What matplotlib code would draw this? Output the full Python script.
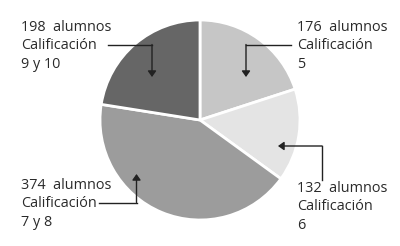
import matplotlib
matplotlib.use("Agg")
import matplotlib.pyplot as plt

# ── Data ─────────────────────────────────────────────────────────────────────
alumnos = [176, 132, 374, 198]
calificaciones = ["5", "6", "7 y 8", "9 y 10"]
colores = ["#c6c6c6", "#e4e4e4", "#9c9c9c", "#666666"]

# ── Figure (pixel-like coordinates, y up) ────────────────────────────────────
W, H = 400, 246
plt.rcParams["font.family"] = ["Open Sans", "DejaVu Sans"]

fig = plt.figure(figsize=(W / 100, H / 100), dpi=100)
ax = fig.add_axes([0, 0, 1, 1])
ax.set_xlim(0, W)
ax.set_ylim(0, H)
ax.set_aspect("equal")
ax.axis("off")

ax.pie(alumnos, colors=colores, startangle=90, counterclock=False,
       center=(200, 126), radius=100,
       wedgeprops=dict(edgecolor="white", linewidth=2))
ax.set_xlim(0, W)
ax.set_ylim(0, H)

FS = 10.4
TXT = "#2a2a2a"
LINE = "#222222"

# label position (x, y top in pixels from top) and leader path (pixels from top)
labels = {
    0: ((297, 20), [(291, 44.5), (246, 44.5), (246, 77)]),
    1: ((297, 181), [(322, 180), (322, 146), (278, 146)]),
    2: ((21, 178), [(99, 202.5), (136.5, 202.5), (136.5, 174)]),
    3: ((21, 20), [(108, 44.5), (152, 44.5), (152, 77)]),
}

for i, ((tx, ty), path) in labels.items():
    txt = f"{alumnos[i]}  alumnos\nCalificación\n{calificaciones[i]}"
    ax.text(tx, H - ty, txt, ha="left", va="top", fontsize=FS, color=TXT,
            linespacing=1.3)
    xs = [p[0] for p in path]
    ys = [H - p[1] for p in path]
    ax.plot(xs[:-1], ys[:-1], color=LINE, lw=1.0, solid_joinstyle="miter")
    ax.annotate("", xy=(xs[-1], ys[-1]), xytext=(xs[-2], ys[-2]),
                arrowprops=dict(arrowstyle="-|>,head_length=0.35,head_width=0.25",
                                color=LINE, lw=1.0, shrinkA=0, shrinkB=0))

fig.savefig("out.png", dpi=100, facecolor="white")
